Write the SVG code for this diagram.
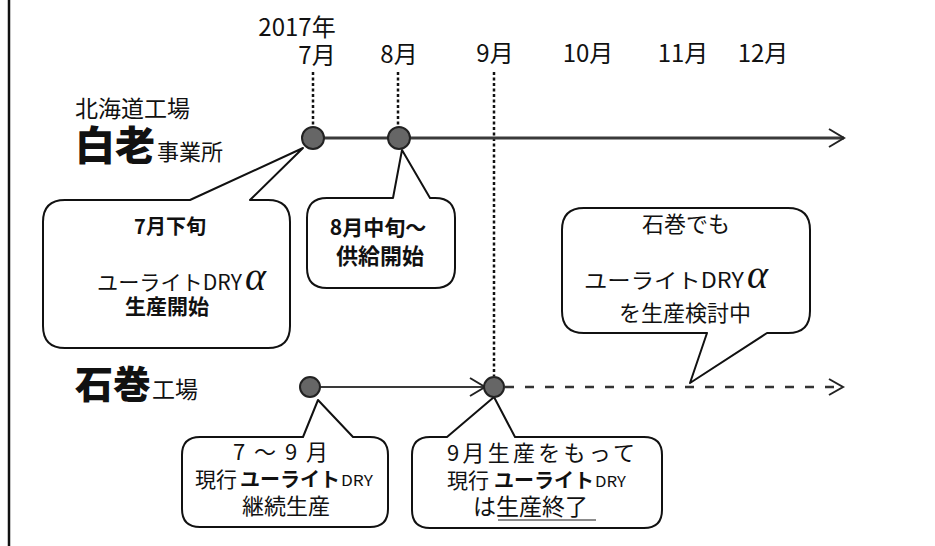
<svg xmlns="http://www.w3.org/2000/svg" width="935" height="546" viewBox="0 0 935 546">
<style>
  text { font-family: "Noto Sans CJK JP", "Noto Sans", sans-serif; fill: #111; }
  .b { font-weight: bold; }
  .alpha { font-family: "Liberation Serif", serif; font-style: italic; font-size: 40px; }
  .call { fill: #fff; stroke: #111; stroke-width: 2; stroke-linejoin: round; }
  .dot { stroke: #111; stroke-width: 2.5; stroke-dasharray: 3 2.5; fill: none; }
  .node { fill: #666; stroke: #222; stroke-width: 2; }
</style>
<defs>
  <marker id="chev" markerWidth="20" markerHeight="22" refX="16" refY="10" orient="auto" markerUnits="userSpaceOnUse">
    <path d="M1,1 L16,10 L1,19" fill="none" stroke="#222" stroke-width="2"/>
  </marker>
</defs>
<rect width="935" height="546" fill="#fff"/>
<line x1="9" y1="0" x2="9" y2="546" stroke="#111" stroke-width="2.5"/>

<g id="axis-labels">
  <text x="297" y="36" font-size="24" text-anchor="middle">2017年</text>
  <text x="317" y="64" font-size="24" text-anchor="middle">7月</text>
  <text x="399" y="63" font-size="24" text-anchor="middle">8月</text>
  <text x="495" y="62" font-size="24" text-anchor="middle">9月</text>
  <text x="588" y="62" font-size="24" text-anchor="middle">10月</text>
  <text x="683" y="62" font-size="24" text-anchor="middle">11月</text>
  <text x="763" y="62" font-size="24" text-anchor="middle">12月</text>
</g>

<g id="site-shiraoi">
  <text x="75" y="117" font-size="23">北海道工場</text>
  <text x="75" y="160" font-size="40" font-weight="900">白老<tspan font-size="22" font-weight="normal" dx="2">事業所</tspan></text>
</g>
<g id="site-ishinomaki">
  <text x="75" y="398" font-size="38" font-weight="900">石巻<tspan font-size="23" font-weight="normal" dx="1">工場</tspan></text>
</g>

<g id="connectors">
  <line class="dot" x1="313" y1="72" x2="313" y2="127"/>
  <line class="dot" x1="398" y1="72" x2="398" y2="127"/>
  <line class="dot" x1="494" y1="72" x2="494" y2="376"/>
  <line x1="313" y1="138" x2="844" y2="138" stroke="#3a3a3a" stroke-width="3" marker-end="url(#chev)"/>
  <line x1="310" y1="387" x2="485" y2="387" stroke="#3a3a3a" stroke-width="2" marker-end="url(#chev)"/>
  <line x1="505" y1="387" x2="838" y2="387" stroke="#333" stroke-width="2.5" stroke-dasharray="9 11"/>
  <path d="M829,379 L843,387 L829,395" fill="none" stroke="#222" stroke-width="2"/>
</g>

<g id="callout-jul">
  <path class="call" d="M65,200 L190,200 L303,148 L250,200 L268,200 Q290,200 290,222 L290,326 Q290,348 268,348 L65,348 Q43,348 43,326 L43,222 Q43,200 65,200 Z"/>
  <text x="170" y="234" font-size="20" class="b" text-anchor="middle">7月下旬</text>
  <text x="97" y="290" font-size="21" textLength="145" lengthAdjust="spacingAndGlyphs">ユーライトDRY</text>
  <text x="245" y="290" class="alpha">α</text>
  <text x="167" y="314" font-size="21" class="b" text-anchor="middle">生産開始</text>
</g>

<g id="callout-aug">
  <path class="call" d="M327,198 L393,198 L402,150 L430,198 L435,198 Q455,198 455,218 L455,268 Q455,288 435,288 L327,288 Q307,288 307,268 L307,218 Q307,198 327,198 Z"/>
  <text x="378" y="235" font-size="21" class="b" text-anchor="middle">8月中旬～</text>
  <text x="380" y="264" font-size="22" class="b" text-anchor="middle">供給開始</text>
</g>

<g id="callout-consider">
  <path class="call" d="M584,208 L788,208 Q810,208 810,230 L810,311 Q810,333 788,333 L767,333 L690,383 L707,333 L584,333 Q562,333 562,311 L562,230 Q562,208 584,208 Z"/>
  <text x="686" y="232" font-size="22" text-anchor="middle">石巻でも</text>
  <text x="584" y="288" font-size="21" textLength="160" lengthAdjust="spacingAndGlyphs">ユーライトDRY</text>
  <text x="747" y="288" class="alpha">α</text>
  <text x="685" y="321" font-size="22" text-anchor="middle">を生産検討中</text>
</g>

<g id="callout-continue">
  <path class="call" d="M200,437 L303,437 L318,400 L353,437 L370,437 Q388,437 388,455 L388,509 Q388,527 370,527 L200,527 Q182,527 182,509 L182,455 Q182,437 200,437 Z"/>
  <text x="233" y="460" font-size="22" textLength="95" lengthAdjust="spacing">7～9月</text>
  <text x="195" y="487" font-size="21">現行</text>
  <text x="240" y="487" font-size="20" class="b" textLength="100" lengthAdjust="spacingAndGlyphs">ユーライト</text>
  <text x="341" y="486" font-size="15" textLength="32" lengthAdjust="spacingAndGlyphs">DRY</text>
  <text x="286" y="514" font-size="22" text-anchor="middle">継続生産</text>
</g>

<g id="callout-end">
  <path class="call" d="M430,437 L447,437 L494,397 L515,437 L644,437 Q662,437 662,455 L662,510 Q662,528 644,528 L430,528 Q412,528 412,510 L412,455 Q412,437 430,437 Z"/>
  <text x="447" y="461" font-size="22" textLength="188" lengthAdjust="spacing">9月生産をもって</text>
  <text x="447" y="488" font-size="21">現行</text>
  <text x="494" y="488" font-size="20" class="b" textLength="100" lengthAdjust="spacingAndGlyphs">ユーライト</text>
  <text x="595" y="487" font-size="15" textLength="31" lengthAdjust="spacingAndGlyphs">DRY</text>
  <text x="473" y="515" font-size="23">は生産終了</text>
  <line x1="498" y1="520" x2="596" y2="520" stroke="#666" stroke-width="1.5"/>
</g>

<g id="nodes">
  <circle class="node" cx="313" cy="138" r="11"/>
  <circle class="node" cx="399" cy="138" r="11"/>
  <circle class="node" cx="310" cy="387" r="10"/>
  <circle class="node" cx="494" cy="387" r="10"/>
</g>
</svg>
